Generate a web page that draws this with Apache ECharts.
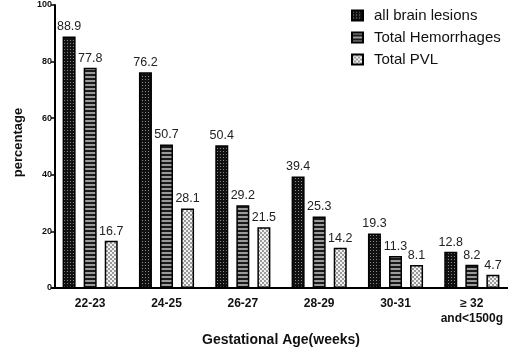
<!DOCTYPE html>
<html>
<head>
<meta charset="utf-8">
<script src="https://cdn.jsdelivr.net/npm/echarts@6/dist/echarts.min.js"></script>
<style>
html,body{margin:0;padding:0;background:#fff;}
#chart{width:508px;height:349px;}
</style>
</head>
<body>
<div id="chart"></div>
<script>
// Gestational age groups and lesion rates (%)
const categories = ['22-23', '24-25', '26-27', '28-29', '30-31', '≥ 32\nand<1500g'];
const allBrainLesions = [88.9, 76.2, 50.4, 39.4, 19.3, 12.8];
const totalHemorrhages = [77.8, 50.7, 29.2, 25.3, 11.3, 8.2];
const totalPVL = [16.7, 28.1, 21.5, 14.2, 8.1, 4.7];
const yTicks = [0, 20, 40, 60, 80, 100];

// Fill patterns for the three series
function makePattern(w, h, draw) {
  const c = document.createElement('canvas');
  c.width = w; c.height = h;
  draw(c.getContext('2d'));
  return { image: c, repeat: 'repeat' };
}
const dotFill = makePattern(3, 3, g => {
  g.fillStyle = '#111'; g.fillRect(0, 0, 3, 3);
  g.fillStyle = '#8a8a8a'; g.fillRect(1, 1, 1, 1);
});
const stripeFill = makePattern(4, 4, g => {
  g.fillStyle = '#9a9a9a'; g.fillRect(0, 0, 4, 4);
  g.fillStyle = '#1a1a1a'; g.fillRect(0, 2, 4, 2);
});
const checkFill = makePattern(4, 4, g => {
  g.fillStyle = '#f2f2f2'; g.fillRect(0, 0, 4, 4);
  g.fillStyle = '#9a9a9a'; g.fillRect(0, 0, 2, 2); g.fillRect(2, 2, 2, 2);
});

const chart = echarts.init(document.getElementById('chart'), null, { renderer: 'canvas' });

const FONT = 'Arial, "Liberation Sans", sans-serif';

function barSeries(name, data, fill) {
  return {
    name: name,
    type: 'bar',
    data: data,
    barWidth: 13,
    barGap: '62%',
    itemStyle: { color: fill, borderColor: '#000', borderWidth: 1.5 },
    label: {
      show: true, position: 'top', distance: 3,
      fontFamily: FONT, fontSize: 12.5, color: '#222'
    }
  };
}

chart.setOption({
  animation: false,
  backgroundColor: '#fff',
  legend: {
    orient: 'vertical',
    left: 351, top: 8, padding: 0,
    icon: 'rect',
    itemWidth: 11, itemHeight: 10, itemGap: 7,
    textStyle: { fontFamily: FONT, fontSize: 15, color: '#111', padding: [0, 0, 0, 6] },
    data: ['all brain lesions', 'Total Hemorrhages', 'Total PVL']
  },
  grid: { left: 52, right: -2, top: 5, bottom: 61, containLabel: false, outerBoundsMode: 'none' },
  xAxis: {
    type: 'category',
    data: categories,
    name: 'Gestational Age(weeks)',
    nameLocation: 'middle',
    nameGap: 45,
    nameTextStyle: { fontFamily: FONT, fontSize: 14, fontWeight: 'bold', color: '#111' },
    axisLine: { lineStyle: { color: '#000', width: 2 } },
    axisTick: { alignWithLabel: true, length: 5, lineStyle: { color: '#000', width: 1.5 } },
    axisLabel: {
      interval: 0,
      fontFamily: FONT, fontSize: 12, fontWeight: 'bold', color: '#111',
      margin: 8, lineHeight: 15
    }
  },
  yAxis: {
    type: 'value',
    min: yTicks[0], max: yTicks[yTicks.length - 1], interval: 20,
    offset: -3,
    name: 'percentage',
    nameLocation: 'middle',
    nameGap: 30,
    nameTextStyle: { fontFamily: FONT, fontSize: 13, fontWeight: 'bold', color: '#111', padding: [0, 0, 0, 8] },
    axisLine: { show: true, lineStyle: { color: '#000', width: 2 } },
    axisTick: { show: true, length: 4, lineStyle: { color: '#000', width: 1.5 } },
    axisLabel: { fontFamily: FONT, fontSize: 9, fontWeight: 'bold', color: '#111', margin: 3 },
    splitLine: { show: false }
  },
  series: [
    barSeries('all brain lesions', allBrainLesions, dotFill),
    barSeries('Total Hemorrhages', totalHemorrhages, stripeFill),
    barSeries('Total PVL', totalPVL, checkFill)
  ]
});
</script>
</body>
</html>
